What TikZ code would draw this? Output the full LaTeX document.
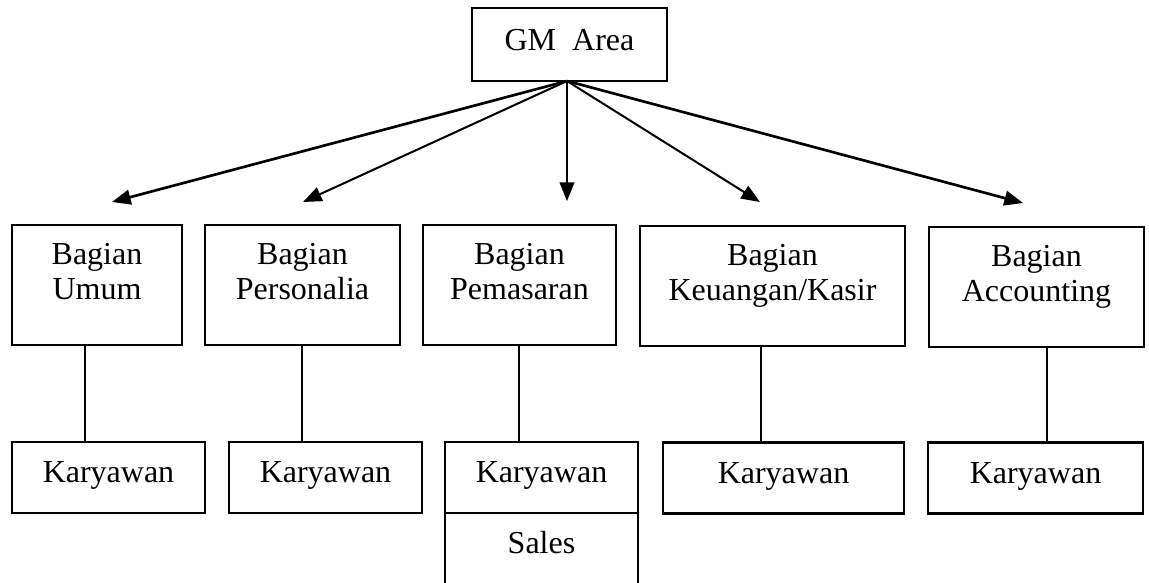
\documentclass[tikz,border=0pt]{standalone}
\usepackage{fontspec}
\setmainfont{Liberation Serif}
\usetikzlibrary{arrows.meta}
\begin{document}
\begin{tikzpicture}[x=0.75pt,y=-0.75pt,
  box/.style={draw, line width=2pt, inner sep=0pt, rectangle},
  sz/.style 2 args={minimum width=#1*0.75pt, minimum height=#2*0.75pt},
  lbl/.style={font=\fontsize{24}{26.25}\selectfont, align=center, inner sep=0pt},
  arr/.style={-{Triangle[length=14pt,width=11pt]}, line width=1.5pt},
  arrthick/.style={arr, line width=2pt},
  link/.style={line width=1.4pt}]
\useasboundingbox (0,0) rectangle (1149,582);
\clip (0,0) rectangle (1149,582);

% top
\node[box, sz={195}{73}] (gm) at (569.5,44.5) {};
\node[lbl, anchor=base] (gmt) at (569.5,50) {GM\ \ Area};

% Bagian row
\node[box, sz={170}{120}] (bU) at (97,285) {};
\node[box, sz={195}{120}] (bP) at (302.5,285) {};
\node[box, sz={193}{120}] (bM) at (519.5,285) {};
\node[box, sz={265}{120}] (bK) at (772.5,286) {};
\node[box, sz={215}{120}] (bA) at (1036.5,287) {};
\node[lbl, anchor=north] (bUt) at (bU.north |- 0,243) {Bagian\\Umum};
\node[lbl, anchor=north] (bPt) at (bP.north |- 0,243) {Bagian\\Personalia};
\node[lbl, anchor=north] (bMt) at (bM.north |- 0,243) {Bagian\\Pemasaran};
\node[lbl, anchor=north] (bKt) at (bK.north |- 0,244) {Bagian\\Keuangan/Kasir};
\node[lbl, anchor=north] (bAt) at (bA.north |- 0,245) {Bagian\\Accounting};

% Karyawan row
\node[box, sz={193}{71}] (kU) at (108.5,477.5) {};
\node[box, sz={193}{71}] (kP) at (325.5,477.5) {};
\node[box, sz={193}{71}] (kM) at (541.5,477.5) {};
\node[box, sz={241}{71}] (kK) at (783.5,478) {};
\node[box, sz={215}{71}] (kA) at (1035.5,478) {};
\node[box, sz={193}{90}] (sales) at (541.5,558) {};
\node[lbl, anchor=base] (kUt) at (kU.center |- 0,482) {Karyawan};
\node[lbl, anchor=base] (kPt) at (kP.center |- 0,482) {Karyawan};
\node[lbl, anchor=base] (kMt) at (kM.center |- 0,482) {Karyawan};
\node[lbl, anchor=base] (kKt) at (kK.center |- 0,483) {Karyawan};
\node[lbl, anchor=base] (kAt) at (kA.center |- 0,483) {Karyawan};
\node[lbl, anchor=base] (st) at (sales.center |- 0,553) {Sales};

% arrow tips
\coordinate (tU) at (112,202);
\coordinate (tP) at (303,202);
\coordinate (tM) at (567,201);
\coordinate (tK) at (760,202);
\coordinate (tA) at (1023,203);
\coordinate (apex) at (567,81);
\draw[arrthick] (apex) -- (tU);
\draw[arr] (apex) -- (tP);
\draw[arr] (apex) -- (tM);
\draw[arr] (apex) -- (tK);
\draw[arrthick] (apex) -- (tA);

% vertical links
\coordinate (xU) at (85,0);
\coordinate (xP) at (302,0);
\coordinate (xM) at (519,0);
\coordinate (xK) at (761,0);
\coordinate (xA) at (1047,0);
\draw[link] (bU.south -| xU) -- (kU.north -| xU);
\draw[link] (bP.south -| xP) -- (kP.north -| xP);
\draw[link] (bM.south -| xM) -- (kM.north -| xM);
\draw[link] (bK.south -| xK) -- (kK.north -| xK);
\draw[link] (bA.south -| xA) -- (kA.north -| xA);
\end{tikzpicture}
\end{document}
